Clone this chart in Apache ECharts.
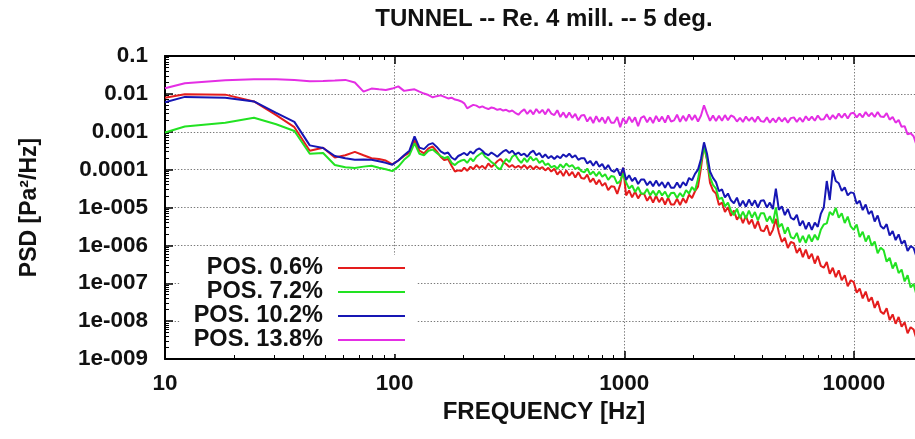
<!DOCTYPE html>
<html><head><meta charset="utf-8">
<script src="https://cdn.jsdelivr.net/npm/echarts@6/dist/echarts.min.js"></script>
<style>html,body{margin:0;padding:0;background:#fff}#c{width:915px;height:439px}</style>
</head><body><div id="c"></div>
<script>
const chartTitle = 'TUNNEL -- Re. 4 mill. -- 5 deg.';
const xName = 'FREQUENCY [Hz]';
const yName = 'PSD [Pa\u00B2/Hz]';
const seriesNames = ['POS. 0.6%', 'POS. 7.2%', 'POS. 10.2%', 'POS. 13.8%'];
const seriesColors = ['#e41d1d', '#22e222', '#1616b4', '#e42ee4'];
const xTickValues = [10, 100, 1000, 10000];
const xTickLabels = ['10', '100', '1000', '10000'];
const yTickValues = [1e-9, 1e-8, 1e-7, 1e-6, 1e-5, 1e-4, 1e-3, 1e-2, 1e-1];
const yTickLabels = ['1e-009', '1e-008', '1e-007', '1e-006', '1e-005', '0.0001', '0.001', '0.01', '0.1'];

// frequency [Hz]
const freq = [
 10, 12.2, 18.3, 24.4, 30.5, 36.6, 42.7, 48.8, 54.9, 61.0,
 67.1, 73.2, 79.3, 85.4, 91.5, 97.7, 103.8, 109.9, 116.0, 122.1,
 128.2, 134.3, 140.4, 146.5, 152.6, 158.7, 164.8, 170.9, 177.0, 183.1,
 189.2, 195.3,
 201, 207, 214, 220, 227, 234, 241, 248, 256, 264,
 272, 280, 289, 297, 306, 316, 325, 335, 346, 356,
 367, 378, 390, 402, 414, 427, 440, 453, 467, 481,
 496, 511, 527, 543, 559, 576, 594, 612, 631, 650,
 670, 690, 711, 733, 755, 778, 802, 826, 851, 877,
 904, 932, 960, 989, 1019, 1050, 1082, 1115, 1149, 1184,
 1220, 1258, 1296, 1335, 1376, 1418, 1461, 1506, 1552, 1599,
 1648, 1698, 1750, 1803, 1858, 1915, 1973, 2033, 2095, 2159,
 2225, 2293, 2363, 2435, 2509, 2585, 2664, 2745, 2829, 2915,
 3004, 3096, 3190, 3287, 3387, 3491, 3597, 3707, 3820, 3936,
 4056, 4180, 4307, 4439, 4574, 4713, 4857, 5005, 5158, 5315,
 5477, 5644, 5816, 5993, 6176, 6364, 6558, 6758, 6964, 7176,
 7395, 7620, 7852, 8092, 8338, 8592, 8854, 9124, 9402, 9689,
 9984, 10288, 10602, 10925, 11258, 11601, 11955, 12319, 12695, 13082,
 13480, 13891, 14315, 14751, 15201, 15664, 16142, 16634, 17141, 17663,
 18202, 18756, 19328, 19917, 20524
];

// PSD [Pa^2/Hz], POS. 0.6%
const psdPos06 = [
 7.94e-3, 9.77e-3, 9.55e-3, 6.31e-3, 2.75e-3, 1.32e-3, 3.16e-4, 3.80e-4, 2.09e-4, 2.40e-4,
 2.95e-4, 2.40e-4, 2.00e-4, 1.91e-4, 1.74e-4, 1.38e-4, 1.74e-4, 2.29e-4, 2.82e-4, 6.03e-4,
 3.16e-4, 2.69e-4, 3.63e-4, 4.07e-4, 3.02e-4, 2.19e-4, 1.78e-4, 1.91e-4, 1.26e-4, 8.91e-5,
 9.55e-5, 9.12e-5,
 1.12e-4, 9.33e-5, 1.20e-4, 1.02e-4, 1.32e-4, 1.10e-4, 1.26e-4, 1.05e-4, 1.45e-4, 1.17e-4,
 1.38e-4, 1.66e-4, 1.91e-4, 1.58e-4, 1.41e-4, 1.17e-4, 1.32e-4, 1.12e-4, 1.26e-4, 1.10e-4,
 1.32e-4, 1.07e-4, 1.26e-4, 1.02e-4, 1.23e-4, 1.05e-4, 1.17e-4, 9.55e-5, 1.12e-4, 8.91e-5,
 1.05e-4, 7.41e-5, 9.33e-5, 6.76e-5, 9.55e-5, 6.92e-5, 8.71e-5, 6.17e-5, 8.51e-5, 6.03e-5,
 5.75e-5, 7.41e-5, 4.68e-5, 5.89e-5, 4.07e-5, 5.37e-5, 3.72e-5, 4.47e-5, 2.88e-5, 3.63e-5,
 3.55e-5, 2.29e-5, 3.98e-5, 1.12e-4, 2.09e-5, 2.82e-5, 1.86e-5, 2.63e-5, 1.74e-5, 2.34e-5,
 2.29e-5, 1.51e-5, 2.00e-5, 1.35e-5, 2.04e-5, 1.38e-5, 1.82e-5, 1.20e-5, 1.82e-5, 1.20e-5,
 1.20e-5, 1.70e-5, 1.15e-5, 1.74e-5, 1.32e-5, 2.19e-5, 1.78e-5, 2.69e-5, 3.55e-5, 1.12e-4,
 4.47e-4, 1.78e-4, 4.47e-5, 2.82e-5, 2.34e-5, 1.17e-5, 1.35e-5, 7.59e-6, 1.02e-5, 6.03e-6,
 8.32e-6, 4.79e-6, 6.31e-6, 3.89e-6, 6.03e-6, 3.63e-6, 4.79e-6, 2.82e-6, 4.37e-6, 2.51e-6,
 2.34e-6, 3.39e-6, 1.82e-6, 2.57e-6, 5.01e-6, 2.19e-6, 1.23e-6, 1.58e-6, 8.51e-7, 1.23e-6,
 1.15e-6, 6.31e-7, 8.51e-7, 4.90e-7, 7.76e-7, 4.47e-7, 6.03e-7, 3.31e-7, 5.25e-7, 2.88e-7,
 2.57e-7, 3.63e-7, 1.78e-7, 2.57e-7, 1.45e-7, 2.19e-7, 1.20e-7, 1.62e-7, 8.32e-8, 1.20e-7,
 1.07e-7, 5.62e-8, 7.24e-8, 3.98e-8, 6.03e-8, 3.31e-8, 4.27e-8, 2.24e-8, 3.39e-8, 1.78e-8,
 1.55e-8, 2.19e-8, 1.07e-8, 1.51e-8, 8.51e-9, 1.29e-8, 7.08e-9, 9.33e-9, 4.79e-9, 6.92e-9,
 6.03e-9, 3.31e-9, 4.27e-9, 2.45e-9, 3.39e-9
];

// PSD [Pa^2/Hz], POS. 7.2%
const psdPos72 = [
 9.55e-4, 1.38e-3, 1.74e-3, 2.34e-3, 1.58e-3, 1.05e-3, 2.63e-4, 2.75e-4, 1.32e-4, 1.15e-4,
 1.10e-4, 1.20e-4, 1.26e-4, 1.12e-4, 1.02e-4, 9.12e-5, 1.20e-4, 1.82e-4, 2.40e-4, 5.01e-4,
 2.63e-4, 2.40e-4, 3.16e-4, 3.39e-4, 2.75e-4, 2.29e-4, 2.00e-4, 2.19e-4, 1.51e-4, 1.32e-4,
 1.58e-4, 1.74e-4,
 1.82e-4, 1.51e-4, 2.00e-4, 1.66e-4, 2.19e-4, 2.51e-4, 2.82e-4, 2.19e-4, 1.91e-4, 1.58e-4,
 1.41e-4, 1.12e-4, 1.02e-4, 1.45e-4, 1.91e-4, 1.58e-4, 2.19e-4, 2.51e-4, 1.82e-4, 1.51e-4,
 2.00e-4, 1.58e-4, 2.19e-4, 1.74e-4, 2.00e-4, 1.51e-4, 1.74e-4, 1.32e-4, 1.45e-4, 1.15e-4,
 1.26e-4, 1.05e-4, 1.38e-4, 1.12e-4, 1.45e-4, 1.20e-4, 1.32e-4, 1.05e-4, 1.15e-4, 9.12e-5,
 8.51e-5, 1.07e-4, 7.41e-5, 8.91e-5, 6.76e-5, 8.71e-5, 6.46e-5, 7.59e-5, 5.37e-5, 6.76e-5,
 6.46e-5, 4.27e-5, 5.01e-5, 7.94e-5, 4.57e-5, 3.16e-5, 3.80e-5, 2.57e-5, 3.47e-5, 2.34e-5,
 2.29e-5, 3.09e-5, 2.09e-5, 2.75e-5, 2.04e-5, 2.82e-5, 2.09e-5, 2.63e-5, 1.82e-5, 2.40e-5,
 2.45e-5, 1.78e-5, 2.40e-5, 1.91e-5, 2.88e-5, 2.34e-5, 3.47e-5, 2.75e-5, 5.62e-5, 1.58e-4,
 3.98e-4, 1.91e-4, 6.31e-5, 3.98e-5, 3.16e-5, 1.66e-5, 1.82e-5, 1.07e-5, 1.35e-5, 8.13e-6,
 6.31e-6, 9.33e-6, 5.25e-6, 7.76e-6, 5.13e-6, 8.32e-6, 5.37e-6, 7.59e-6, 4.57e-6, 7.08e-6,
 7.08e-6, 4.27e-6, 5.89e-6, 3.80e-6, 1.00e-5, 3.02e-6, 3.72e-6, 2.04e-6, 3.02e-6, 1.66e-6,
 1.51e-6, 2.14e-6, 1.20e-6, 1.78e-6, 1.17e-6, 1.91e-6, 1.26e-6, 1.91e-6, 1.38e-6, 2.57e-6,
 3.55e-6, 3.80e-6, 7.59e-6, 6.31e-6, 9.77e-6, 5.37e-6, 7.08e-6, 3.89e-6, 5.75e-6, 3.16e-6,
 2.57e-6, 3.55e-6, 1.66e-6, 2.29e-6, 1.26e-6, 1.82e-6, 9.77e-7, 1.26e-6, 6.17e-7, 8.71e-7,
 7.41e-7, 3.72e-7, 4.68e-7, 2.45e-7, 3.55e-7, 1.86e-7, 2.29e-7, 1.12e-7, 1.62e-7, 7.76e-8,
 9.55e-8, 4.79e-8, 5.89e-8, 3.24e-8, 4.37e-8
];

// PSD [Pa^2/Hz], POS. 10.2%
const psdPos102 = [
 6.03e-3, 8.32e-3, 7.94e-3, 6.31e-3, 3.16e-3, 1.82e-3, 4.37e-4, 3.72e-4, 2.29e-4, 2.00e-4,
 1.82e-4, 1.86e-4, 1.82e-4, 1.66e-4, 1.51e-4, 1.35e-4, 1.74e-4, 2.40e-4, 3.16e-4, 7.59e-4,
 3.80e-4, 3.47e-4, 4.57e-4, 5.01e-4, 3.98e-4, 3.02e-4, 2.63e-4, 2.82e-4, 2.09e-4, 1.82e-4,
 2.29e-4, 2.51e-4,
 2.75e-4, 2.40e-4, 3.02e-4, 2.63e-4, 3.31e-4, 3.63e-4, 3.16e-4, 2.63e-4, 2.40e-4, 2.82e-4,
 2.51e-4, 2.19e-4, 2.63e-4, 3.02e-4, 3.31e-4, 2.75e-4, 3.16e-4, 2.51e-4, 2.82e-4, 2.40e-4,
 2.63e-4, 2.19e-4, 2.82e-4, 3.16e-4, 2.40e-4, 2.75e-4, 2.09e-4, 2.51e-4, 2.00e-4, 2.29e-4,
 1.91e-4, 2.29e-4, 2.00e-4, 2.51e-4, 2.19e-4, 2.63e-4, 2.09e-4, 2.40e-4, 1.82e-4, 2.00e-4,
 2.00e-4, 1.45e-4, 1.70e-4, 1.26e-4, 1.66e-4, 1.20e-4, 1.41e-4, 1.02e-4, 1.32e-4, 9.55e-5,
 8.71e-5, 1.07e-4, 6.92e-5, 1.12e-4, 5.37e-5, 7.08e-5, 5.01e-5, 6.17e-5, 4.17e-5, 5.50e-5,
 5.50e-5, 3.89e-5, 4.90e-5, 3.63e-5, 5.13e-5, 3.72e-5, 4.68e-5, 3.31e-5, 4.68e-5, 3.31e-5,
 3.31e-5, 4.57e-5, 3.31e-5, 4.68e-5, 3.80e-5, 6.03e-5, 5.25e-5, 7.76e-5, 1.00e-4, 1.91e-4,
 5.25e-4, 2.63e-4, 8.91e-5, 6.03e-5, 4.68e-5, 2.69e-5, 3.02e-5, 1.86e-5, 2.34e-5, 1.55e-5,
 1.29e-5, 1.82e-5, 1.07e-5, 1.51e-5, 1.05e-5, 1.62e-5, 1.12e-5, 1.55e-5, 1.00e-5, 1.51e-5,
 1.55e-5, 1.00e-5, 1.35e-5, 9.12e-6, 3.16e-5, 8.71e-6, 1.07e-5, 6.31e-6, 9.12e-6, 5.37e-6,
 4.79e-6, 6.46e-6, 3.31e-6, 4.47e-6, 2.69e-6, 4.07e-6, 2.57e-6, 3.98e-6, 3.09e-6, 6.76e-6,
 1.00e-5, 5.01e-5, 1.58e-5, 9.55e-5, 5.01e-5, 4.37e-5, 2.75e-5, 3.39e-5, 2.09e-5, 2.51e-5,
 2.40e-5, 1.26e-5, 1.51e-5, 8.51e-6, 1.20e-5, 6.76e-6, 8.13e-6, 4.27e-6, 6.17e-6, 3.24e-6,
 2.75e-6, 3.63e-6, 1.82e-6, 2.40e-6, 1.38e-6, 1.95e-6, 1.10e-6, 1.35e-6, 7.08e-7, 9.55e-7,
 8.51e-7, 4.90e-7, 6.03e-7, 3.63e-7, 4.79e-7
];

// PSD [Pa^2/Hz], POS. 13.8%
const psdPos138 = [
 1.41e-2, 1.91e-2, 2.29e-2, 2.45e-2, 2.45e-2, 2.34e-2, 2.16e-2, 2.19e-2, 2.26e-2, 2.34e-2,
 2.00e-2, 1.15e-2, 1.38e-2, 1.32e-2, 1.27e-2, 1.38e-2, 1.58e-2, 1.20e-2, 1.26e-2, 1.32e-2,
 1.15e-2, 1.02e-2, 9.33e-3, 8.13e-3, 8.71e-3, 9.12e-3, 8.32e-3, 7.59e-3, 7.94e-3, 7.08e-3,
 6.76e-3, 6.31e-3,
 5.62e-3, 4.17e-3, 4.68e-3, 5.13e-3, 4.90e-3, 4.37e-3, 4.68e-3, 4.27e-3, 3.98e-3, 4.37e-3,
 4.17e-3, 3.80e-3, 3.98e-3, 3.63e-3, 3.80e-3, 3.39e-3, 3.63e-3, 3.16e-3, 2.82e-3, 3.39e-3,
 3.89e-3, 2.95e-3, 3.72e-3, 2.88e-3, 3.98e-3, 3.09e-3, 3.80e-3, 2.88e-3, 3.98e-3, 3.02e-3,
 2.75e-3, 3.72e-3, 2.45e-3, 3.24e-3, 2.34e-3, 3.24e-3, 2.34e-3, 2.95e-3, 2.00e-3, 2.69e-3,
 2.75e-3, 1.86e-3, 2.45e-3, 1.70e-3, 2.57e-3, 1.82e-3, 2.40e-3, 1.66e-3, 2.51e-3, 1.74e-3,
 1.74e-3, 2.45e-3, 1.32e-3, 2.29e-3, 1.66e-3, 2.51e-3, 1.78e-3, 2.40e-3, 1.41e-3, 2.34e-3,
 2.57e-3, 1.78e-3, 2.40e-3, 1.70e-3, 2.63e-3, 1.86e-3, 2.51e-3, 1.74e-3, 2.69e-3, 1.86e-3,
 2.00e-3, 2.82e-3, 1.82e-3, 2.63e-3, 1.91e-3, 2.88e-3, 2.04e-3, 2.75e-3, 1.86e-3, 2.69e-3,
 5.01e-3, 3.02e-3, 1.95e-3, 2.69e-3, 1.91e-3, 2.63e-3, 1.95e-3, 2.75e-3, 2.00e-3, 2.69e-3,
 2.45e-3, 1.86e-3, 2.34e-3, 1.82e-3, 2.51e-3, 1.95e-3, 2.40e-3, 1.82e-3, 2.51e-3, 1.91e-3,
 1.82e-3, 2.40e-3, 1.74e-3, 2.24e-3, 1.78e-3, 2.40e-3, 1.86e-3, 2.34e-3, 1.74e-3, 2.29e-3,
 2.40e-3, 1.82e-3, 2.34e-3, 1.82e-3, 2.57e-3, 2.00e-3, 2.51e-3, 1.95e-3, 2.69e-3, 2.09e-3,
 2.14e-3, 2.88e-3, 2.09e-3, 2.75e-3, 2.19e-3, 3.02e-3, 2.34e-3, 3.02e-3, 2.24e-3, 3.02e-3,
 3.16e-3, 2.40e-3, 3.02e-3, 2.40e-3, 3.31e-3, 2.57e-3, 3.16e-3, 2.45e-3, 3.31e-3, 2.51e-3,
 2.45e-3, 3.09e-3, 2.09e-3, 2.45e-3, 1.74e-3, 2.04e-3, 1.35e-3, 1.41e-3, 8.51e-4, 9.12e-4,
 7.59e-4, 4.37e-4, 4.57e-4, 2.75e-4, 2.95e-4
];

const seriesValues = [psdPos06, psdPos72, psdPos102, psdPos138];

const FONT = '"Liberation Sans", Arial, Helvetica, sans-serif';
const X_MIN = 10, X_MAX = 20000, Y_MIN = 1e-9, Y_MAX = 0.1;
const gridBox = { left: 165, top: 56, width: 758, height: 303, outerBoundsMode: 'none', containLabel: false };
const gridLine = { show: true, lineStyle: { color: '#7a7a7a', width: 1, type: [1.4, 1.8] } };
const lab = { fontFamily: FONT, fontSize: 22.5, fontWeight: 'bold', color: '#111' };

// minor tick positions (log10 space) for decoration axes
const xMinorLog = [];
for (let n = 1; n <= 4; n++) for (let k = 2; k <= 9; k++) { const v = k * Math.pow(10, n); if (v < X_MAX) xMinorLog.push(Math.log10(v)); }
const yMinorLog = [];
for (let n = -9; n <= -2; n++) for (let k = 2; k <= 9; k++) yMinorLog.push(n + Math.log10(k));

function xLabel(v) {
  const i = xTickValues.findIndex(t => Math.abs(Math.log10(t) - Math.log10(v)) < 1e-6);
  return i >= 0 ? xTickLabels[i] : '';
}
function yLabel(v) {
  const i = yTickValues.findIndex(t => Math.abs(Math.log10(t) - Math.log10(v)) < 1e-6);
  return i >= 0 ? yTickLabels[i] : '';
}

const chart = echarts.init(document.getElementById('c'), null, { renderer: 'canvas' });
chart.setOption({
  animation: false,
  backgroundColor: '#fff',
  title: {
    text: chartTitle, left: 544, top: 7, textAlign: 'center', padding: 0,
    textStyle: { fontFamily: FONT, fontSize: 24, fontWeight: 'bold', color: '#111' }
  },
  legend: {
    data: seriesNames, orient: 'vertical', right: 498, top: 255, align: 'right',
    icon: 'rect', itemWidth: 67, itemHeight: 2, itemGap: 0,
    padding: [1, 12, 2, 14], backgroundColor: '#fff', selectedMode: false,
    textStyle: { fontFamily: FONT, fontSize: 23.5, fontWeight: 'bold', color: '#111', lineHeight: 24, padding: [0, 10, 0, 0] }
  },
  grid: [Object.assign({}, gridBox), Object.assign({}, gridBox)],
  xAxis: [
    {
      type: 'log', logBase: 10, min: X_MIN, max: X_MAX, gridIndex: 0, position: 'bottom',
      name: xName, nameLocation: 'middle', nameGap: 35,
      nameTextStyle: { fontFamily: FONT, fontSize: 24, fontWeight: 'bold', color: '#111' },
      axisLine: { show: true, lineStyle: { color: '#000', width: 2 } },
      axisTick: { show: true, inside: true, length: 8, lineStyle: { color: '#000', width: 1.5 } },
      axisLabel: Object.assign({ formatter: xLabel, margin: 13, showMinLabel: true, showMaxLabel: true }, lab),
      splitLine: gridLine, minorTick: { show: false }
    },
    {
      type: 'log', logBase: 10, min: X_MIN, max: X_MAX, gridIndex: 0, position: 'top',
      axisLine: { show: true, lineStyle: { color: '#000', width: 2 } },
      axisTick: { show: true, inside: true, length: 8, lineStyle: { color: '#000', width: 1.5 } },
      axisLabel: { show: false }, splitLine: { show: false }
    },
    {
      type: 'value', min: 1, max: Math.log10(X_MAX), gridIndex: 1, position: 'bottom',
      axisLine: { show: false, onZero: false },
      axisTick: { show: true, inside: true, length: 4, customValues: xMinorLog, lineStyle: { color: '#000', width: 1 } },
      axisLabel: { show: false }, splitLine: { show: false }
    },
    {
      type: 'value', min: 1, max: Math.log10(X_MAX), gridIndex: 1, position: 'top',
      axisLine: { show: false, onZero: false },
      axisTick: { show: true, inside: true, length: 4, customValues: xMinorLog, lineStyle: { color: '#000', width: 1 } },
      axisLabel: { show: false }, splitLine: { show: false }
    }
  ],
  yAxis: [
    {
      type: 'log', logBase: 10, min: Y_MIN, max: Y_MAX, gridIndex: 0, position: 'left',
      name: yName, nameLocation: 'middle', nameGap: 124, nameRotate: 90,
      nameTextStyle: { fontFamily: FONT, fontSize: 23, fontWeight: 'bold', color: '#111' },
      axisLine: { show: true, lineStyle: { color: '#000', width: 2 } },
      axisTick: { show: true, inside: true, length: 8, lineStyle: { color: '#000', width: 1.5 } },
      axisLabel: Object.assign({ formatter: yLabel, margin: 17, showMinLabel: true, showMaxLabel: true }, lab),
      splitLine: gridLine
    },
    {
      type: 'value', min: -9, max: -1, gridIndex: 1, position: 'left',
      axisLine: { show: false, onZero: false },
      axisTick: { show: true, inside: true, length: 4, customValues: yMinorLog, lineStyle: { color: '#000', width: 1 } },
      axisLabel: { show: false }, splitLine: { show: false }
    }
  ],
  series: seriesValues.map((vals, i) => ({
    name: seriesNames[i], type: 'line', xAxisIndex: 0, yAxisIndex: 0,
    data: freq.map((f, j) => [f, vals[j]]),
    symbol: 'none', showSymbol: false, smooth: false, clip: true, silent: true,
    color: seriesColors[i], itemStyle: { color: seriesColors[i] },
    lineStyle: { color: seriesColors[i], width: 2 },
    emphasis: { disabled: true }, z: 2 + i
  }))
});
</script>
</body></html>
